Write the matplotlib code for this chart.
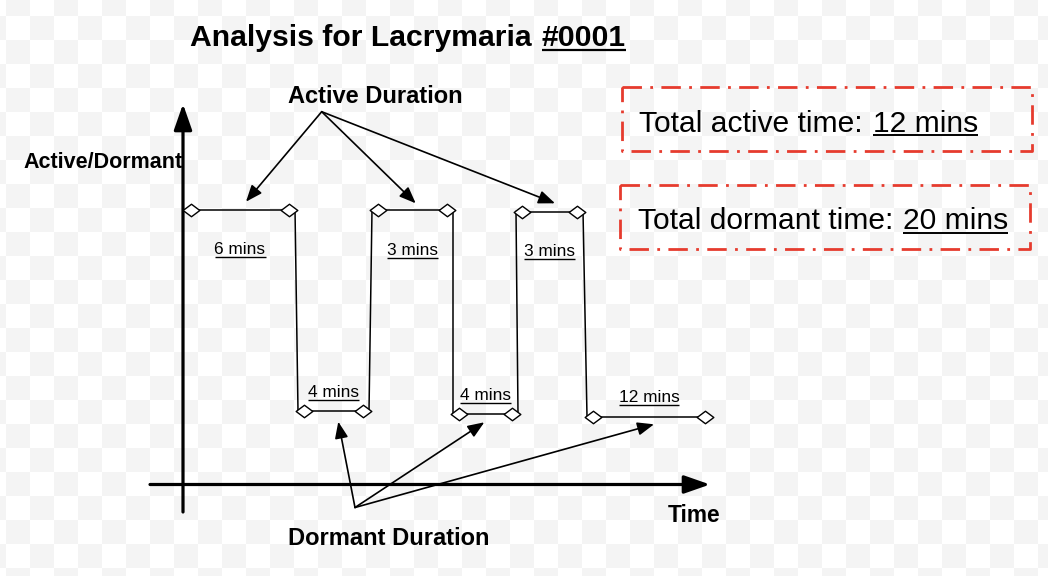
import numpy as np
import matplotlib
matplotlib.use("Agg")
import matplotlib.pyplot as plt
from matplotlib.path import Path

plt.rcParams['font.family'] = ['Liberation Sans', 'DejaVu Sans']

# data: sequence of states with their durations (diagram is not drawn to scale)
states = [1, 0, 1, 0, 1, 0]            # 1 = active, 0 = dormant
durations = [6, 4, 3, 4, 3, 12]         # minutes
seg_start = [191, 304, 378, 459, 522, 593]   # position along time axis in the diagram
seg_end = [289, 363, 447, 512, 577, 705]
seg_level = [209.5, 411, 210, 414, 211.5, 416.5]

total_active = sum(d for s, d in zip(states, durations) if s == 1)
total_dormant = sum(d for s, d in zip(states, durations) if s == 0)

W, H = 1048, 576
fig = plt.figure(figsize=(W / 100, H / 100), dpi=100)
ax = fig.add_axes([0, 0, 1, 1])
ax.set_xlim(0, W)
ax.set_ylim(H, 0)
ax.axis('off')

# checkerboard background (transparent look)
xx, yy = np.meshgrid(np.arange(W), np.arange(H))
cb = ((np.floor((xx - 6) / 24) + np.floor((yy - 16) / 24)) % 2)
bg = np.where(cb[..., None] == 1, np.array([0.957, 0.957, 0.957]), np.array([1.0, 1.0, 1.0]))
ax.imshow(bg, extent=(0, W, H, 0), interpolation='nearest', zorder=0)

renderer = fig.canvas.get_renderer()


def underline(t, y, lw=1.2):
    bb = t.get_window_extent(renderer).transformed(ax.transData.inverted())
    ax.plot([bb.x0, bb.x1], [y, y], color='k', lw=lw, solid_capstyle='butt', zorder=5)


# title
ax.text(190, 45.7, 'Analysis for Lacrymaria', fontsize=21.7, fontweight='bold',
        ha='left', va='baseline')
t = ax.text(626, 45.7, '#0001', fontsize=21.7, fontweight='bold', ha='right', va='baseline')
underline(t, 49.5, lw=1.6)

# axes arrows
big = dict(arrowstyle='-|>,head_length=0.63,head_width=0.22', color='k', lw=2.3,
           mutation_scale=25, shrinkA=0, shrinkB=0)
ax.annotate('', xy=(183, 104), xytext=(183, 512), arrowprops=big, zorder=3)
ax.annotate('', xy=(710, 484.5), xytext=(150, 484.5), arrowprops=big, zorder=3)
ax.text(182.5, 167.7, 'Active/Dormant', fontsize=15.5, fontweight='bold', ha='right', va='baseline')
ax.text(720, 521.7, 'Time', fontsize=16.4, fontweight='bold', ha='right', va='baseline')

# step line
hw = 6
diamond = Path([(-1, 0), (0, 0.75), (1, 0), (0, -0.75), (-1, 0)],
               [Path.MOVETO, Path.LINETO, Path.LINETO, Path.LINETO, Path.CLOSEPOLY])
for i in range(len(states)):
    y = seg_level[i]
    ax.plot([seg_start[i], seg_end[i]], [y, y], color='k', lw=1.1, zorder=3)
    ax.plot([seg_start[i], seg_end[i]], [y, y], ls='none', marker=diamond, ms=12,
            mfc='white', mec='k', mew=1.0, zorder=4)
    if i < len(states) - 1:
        ax.plot([seg_end[i] + hw, seg_start[i + 1] - hw], [y, seg_level[i + 1]],
                color='k', lw=1.1, zorder=3)
    xc = (seg_start[i] + seg_end[i]) / 2
    yb = y + 45 if states[i] == 1 else y - 14
    t = ax.text(xc, yb, '%d mins' % durations[i], fontsize=12.4, ha='center', va='baseline')
    underline(t, yb + 2.5, lw=1.0)

# pointer arrows
small = dict(arrowstyle='-|>,head_length=0.5,head_width=0.2', color='k', lw=1.2,
             mutation_scale=20, shrinkA=0, shrinkB=0)
ax.text(375, 103.3, 'Active Duration', fontsize=17, fontweight='bold', ha='center', va='baseline')
for tip in [(246, 201.7), (415.7, 203.3), (555, 203.3)]:
    ax.annotate('', xy=tip, xytext=(321.7, 111.7), arrowprops=small, zorder=3)

ax.text(388.3, 545, 'Dormant Duration', fontsize=17, fontweight='bold', ha='center', va='baseline')
for tip in [(338.3, 421.7), (484.3, 422.3), (654, 424.3)]:
    ax.annotate('', xy=tip, xytext=(355, 507.5), arrowprops=small, zorder=3)

# summary boxes
red = '#e63b2e'
boxes = [(621.7, 87.3, 1032.3, 151, 'Total active time:', total_active, 131.7, 639, 978),
         (620, 185, 1030, 249, 'Total dormant time:', total_dormant, 229, 637.7, 1008)]
for x0, y0, x1, y1, lab, val, yb, xl, xr in boxes:
    ax.plot([x0, x1, x1, x0, x0], [y0, y0, y1, y1, y0], color=red, lw=2.0,
            ls=(0, (7, 3, 1, 3)), zorder=3)
    ax.text(xl, yb, lab, fontsize=21.6, ha='left', va='baseline')
    t = ax.text(xr, yb, '%d mins' % val, fontsize=21.6, ha='right', va='baseline')
    underline(t, yb + 3.5, lw=1.4)

fig.savefig('out.png', dpi=100)
